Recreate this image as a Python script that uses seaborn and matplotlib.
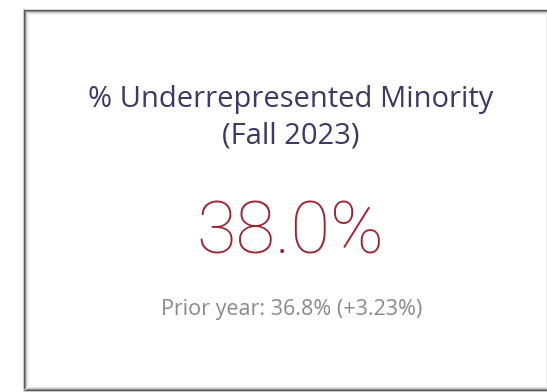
import matplotlib
matplotlib.use("Agg")
import matplotlib.pyplot as plt
import seaborn as sns
from matplotlib.lines import Line2D

# KPI values
metric_name = ["% Underrepresented Minority", "(Fall 2023)"]
current_value = [38.0]
prior_value = [36.8]
pct_change = [3.23]

sns.set_theme(style="white")
plt.rcParams["font.family"] = ["Open Sans", "DejaVu Sans"]

W, H = 547, 392
fig = plt.figure(figsize=(W / 100, H / 100), dpi=100)
fig.patch.set_facecolor("white")
ax = fig.add_axes([0, 0, 1, 1])
ax.set_xlim(0, W)
ax.set_ylim(H, 0)
ax.axis("off")

# card frame with a soft shadowed edge (left, top, bottom)
def edge(x0, y0, x1, y1, color, lw, alpha):
    ax.add_line(Line2D([x0, x1], [y0, y1], color=color, lw=lw, alpha=alpha,
                       solid_capstyle="butt"))

shades = [(0, "#555555", 1.0), (1, "#7a7a7a", 0.85), (2, "#a8a8a8", 0.6),
          (3, "#cfcfcf", 0.5), (4, "#e8e8e8", 0.4)]
for d, c, a in shades:
    edge(23.5 + d, 9 + d, 23.5 + d, 389 - d, c, 0.8, a)
    edge(23.5 + d, 9.5 + d, W, 9.5 + d, c, 0.8, a)
    edge(23.5 + d, 389.5 - d, W, 389.5 - d, c, 0.8, a)
edge(22.5, 9, 22.5, 390, "#a0a0a0", 0.8, 0.5)
edge(23, 8.5, W, 8.5, "#b8b8b8", 0.8, 0.4)
edge(23, 390.5, W, 390.5, "#a0a0a0", 0.8, 0.5)
edge(546, 12, 546, 386, "#e8e8e8", 0.8, 0.8)

title_color = "#3a3a66"
value_color = "#9e2434"
prior_color = "#8a8a8a"

ax.text(291, 107, metric_name[0], ha="center", va="baseline",
        fontsize=21, color=title_color)
ax.text(291, 143, metric_name[1], ha="center", va="baseline",
        fontsize=21, color=title_color)

ax.text(290, 253, f"{current_value[0]:.1f}%", ha="center", va="baseline",
        fontsize=52, color=value_color, fontweight="light",
        family=["Roboto", "DejaVu Sans"])

ax.text(292, 315,
        f"Prior year: {prior_value[0]:.1f}% (+{pct_change[0]:.2f}%)",
        ha="center", va="baseline", fontsize=15.5, color=prior_color)

fig.savefig("out.png", dpi=100, facecolor="white")
